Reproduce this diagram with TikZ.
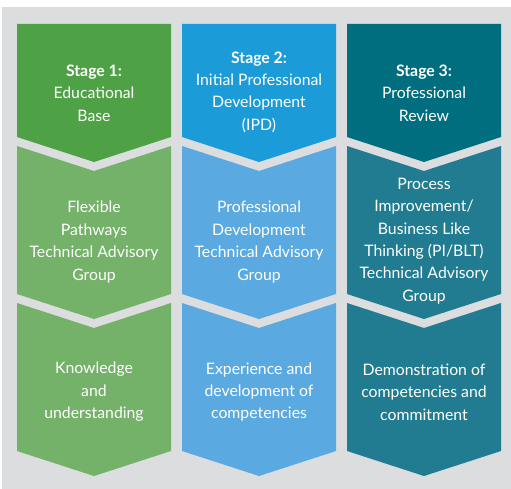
\documentclass[tikz,border=0pt]{standalone}
\usepackage{fontspec}
\setmainfont{Lato}
\begin{document}
\begin{tikzpicture}[x=1pt,y=-1pt,
  lbl/.style={text=white, align=center, font=\fontsize{15.8}{22.4}\selectfont, inner sep=0pt},
  stg/.style={font=\bfseries}]
\definecolor{bgc}{HTML}{DCDDDF}
\definecolor{gA}{HTML}{4FA146}
\definecolor{gB}{HTML}{74B169}
\definecolor{bA}{HTML}{1B9BD7}
\definecolor{bB}{HTML}{5AA9E0}
\definecolor{tA}{HTML}{006E7F}
\definecolor{tB}{HTML}{217C91}
\useasboundingbox (0,0) rectangle (511,489);
\fill[bgc] (2,7) rectangle (511,489);
% chevrons: #1 x-left, #2 x-right, #3 top sides, #4 top notch depth, #5 bottom sides, #6 colour
\newcommand{\chev}[6]{%
  \fill[#6] (#1,#3) -- ({(#1+#2)/2},#3+#4) -- (#2,#3) -- (#2,#5) -- ({(#1+#2)/2},#5+25) -- (#1,#5) -- cycle;}
\foreach \xl/\ca/\cb in {17/gA/gB, 182/bA/bB, 347/tA/tB}{
  \pgfmathsetmacro{\xr}{\xl+154}
  \chev{\xl}{\xr}{24}{0}{137}{\ca}
  \chev{\xl}{\xr}{146}{25}{294}{\cb}
  \chev{\xl}{\xr}{303}{25}{451}{\cb}
}
% top row
\node[lbl] (s1) at (94,93) {{\bfseries Stage 1:}\\Educational\\Base};
\node[lbl] (s2) at (259,92) {{\bfseries Stage 2:}\\Initial Professional\\Development\\(IPD)};
\node[lbl] (s3) at (424,93) {{\bfseries Stage 3:}\\Professional\\Review};
% middle row
\node[lbl] (m1) at (94,242) {Flexible\\Pathways\\Technical Advisory\\Group};
\node[lbl] (m2) at (259,242) {Professional\\Development\\Technical Advisory\\Group};
\node[lbl] (m3) at (424,241) {Process\\Improvement/\\Business Like\\Thinking (PI/BLT)\\Technical Advisory\\Group};
% bottom row
\node[lbl] (b1) at (94,392) {Knowledge\\and\\understanding};
\node[lbl] (b2) at (259,392) {Experience and\\development of\\competencies};
\node[lbl] (b3) at (424,392) {Demonstration of\\competencies and\\commitment};
\end{tikzpicture}
\end{document}
